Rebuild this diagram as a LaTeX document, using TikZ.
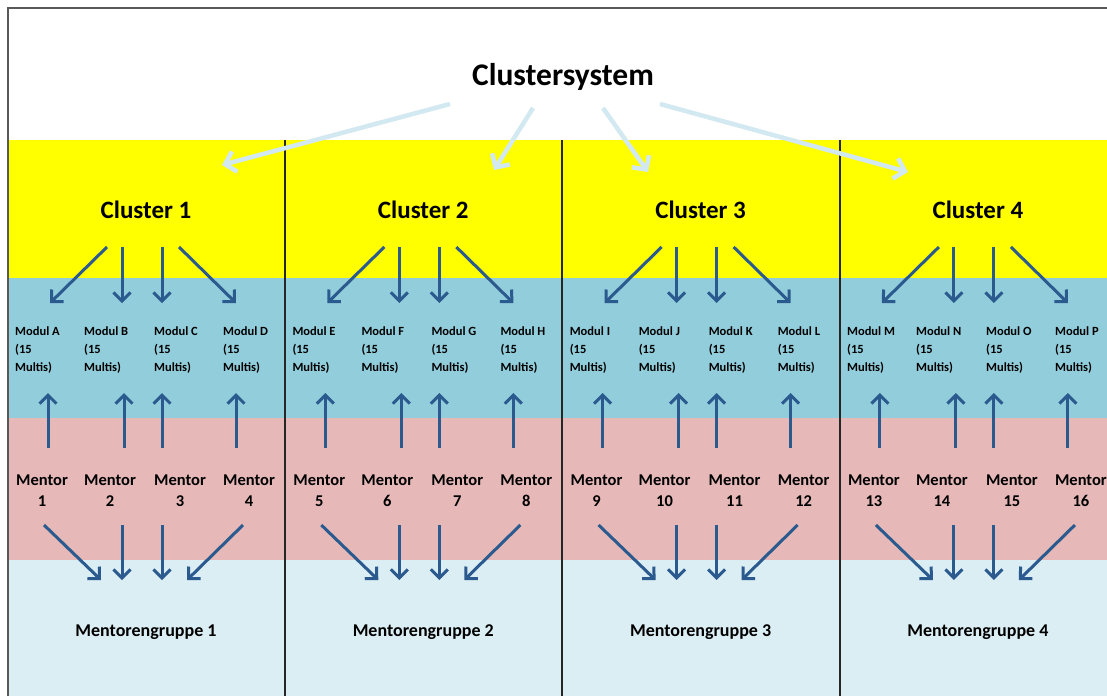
\documentclass[tikz,border=0pt]{standalone}
\usepackage{fontspec}
\setmainfont{Carlito}
\usetikzlibrary{arrows.meta}
\definecolor{bandyellow}{HTML}{FFFF00}
\definecolor{bandblue}{HTML}{92CDDC}
\definecolor{bandpink}{HTML}{E6B9B8}
\definecolor{bandlight}{HTML}{DBEEF4}
\definecolor{arrowblue}{HTML}{2B5A8E}
\definecolor{arrowlight}{HTML}{D3E9F1}

\begin{document}
\begin{tikzpicture}[x=1pt, y=-1pt,
  darrow/.style={draw=arrowblue, line width=3pt, -{Straight Barb[length=8.5pt,width=17pt]}},
  larrow/.style={draw=arrowlight, line width=4.5pt, -{Straight Barb[length=10pt,width=21pt]}},
  titletext/.style={font=\bfseries\fontsize{31.5}{36}\selectfont, inner sep=0pt},
  clustertext/.style={font=\bfseries\fontsize{25}{28}\selectfont, inner sep=0pt},
  modtext/.style={font=\bfseries\fontsize{12.5}{18}\selectfont, align=left, anchor=north west, inner sep=0pt},
  mentortext/.style={font=\bfseries\fontsize{16.5}{21}\selectfont, align=center, anchor=north, inner sep=0pt},
  grouptext/.style={font=\bfseries\fontsize{18}{21}\selectfont, inner sep=0pt}]
  \useasboundingbox (0,0) rectangle (1107,696);

  % Bands
  \fill[white] (0,0) rectangle (1107,696);
  \fill[bandyellow] (8,140) rectangle (1107,278);
  \fill[bandblue] (8,278) rectangle (1107,418);
  \fill[bandpink] (8,418) rectangle (1107,560);
  \fill[bandlight] (8,560) rectangle (1107,696);

  % Frame and column lines
  \draw[black!65, line width=1.6pt] (8,696) -- (8,8) -- (1107,8);
  \foreach \x in {285,562,840} {
    \draw[black!85, line width=1.5pt] (\x,140) -- (\x,696);
  }

  % Title
  \node[titletext] (cs) at (563,77) {Clustersystem};
  \coordinate (cs1) at (450,104); \coordinate (ct1) at (222,165);
  \coordinate (cs2) at (533,108); \coordinate (ct2) at (494,170);
  \coordinate (cs3) at (603,108); \coordinate (ct3) at (648,172);
  \coordinate (cs4) at (660,104); \coordinate (ct4) at (908,172);
  \foreach \c in {1,...,4} {
    \draw[larrow] (cs\c) -- (ct\c);
  }

  % Columns
  \foreach \c in {0,...,3} {
    \pgfmathsetmacro\xo{8+277.3*\c}
    \pgfmathtruncatemacro\cn{\c+1}
    \node[clustertext] (cl\cn) at (\xo+138,210) {Cluster \cn};
    \node[grouptext] (grp\cn) at (\xo+138,632) {Mentorengruppe \cn};
    \foreach \i/\mx/\as/\ae/\ux/\nx/\bs/\be in
      {1/7/99/42/40/34/36/93, 2/76/114/114/116/102/114/114,
       3/146/154/154/154/172/154/154, 4/215/171/228/228/241/235/179} {
      \pgfmathtruncatemacro\k{4*\c+\i}
      \node[modtext] (mod\k) at (\xo+\mx,327)
        {Modul \char\numexpr64+\k\relax\\(15\\Multis)};
      \node[mentortext] (men\k) at (\xo+\nx,475) {Mentor\\\k};
      \coordinate (da\k) at (\xo+\as,247);
      \coordinate (db\k) at (\xo+\ae,303);
      \coordinate (ua\k) at (\xo+\ux,448);
      \coordinate (ub\k) at (\xo+\ux,393);
      \coordinate (ba\k) at (\xo+\bs,525);
      \coordinate (bb\k) at (\xo+\be,580);
      \draw[darrow] (da\k) -- (db\k);
      \draw[darrow] (ua\k) -- (ub\k);
      \draw[darrow] (ba\k) -- (bb\k);
    }
  }
\end{tikzpicture}
\end{document}
